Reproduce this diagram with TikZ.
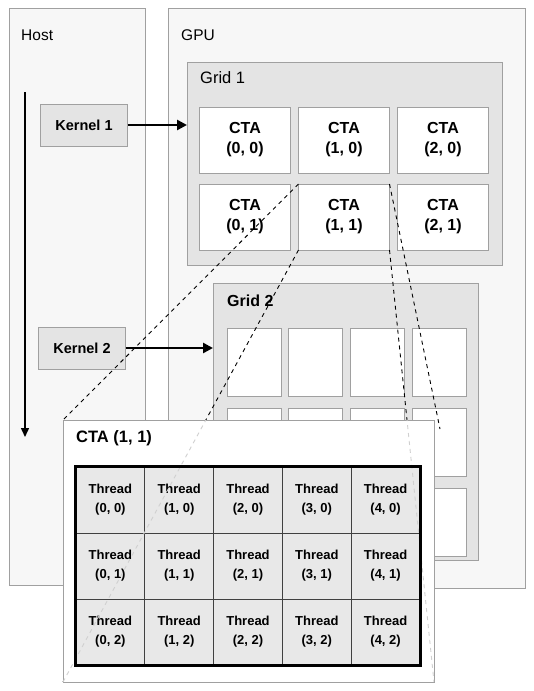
\documentclass[tikz,border=0pt]{standalone}
\usepackage{fontspec}
\setmainfont{Liberation Sans}
\usetikzlibrary{arrows.meta}
\definecolor{pane}{HTML}{F7F7F7}
\definecolor{gridfill}{HTML}{E4E4E4}
\definecolor{edge}{HTML}{A0A0A0}
\definecolor{cellfill}{HTML}{E8E8E8}
\definecolor{faint}{HTML}{D0D0D0}

\begin{document}
\begin{tikzpicture}[x=1pt,y=-1pt,
		box/.style={draw=edge,line width=1pt,inner sep=0pt,outer sep=0pt},
		boxtitle/.style={anchor=west,inner sep=0pt,font=\fontsize{15.5}{18}\selectfont},
		cta/.style={box,fill=white,minimum width=91pt,minimum height=66pt,align=center,font=\fontsize{16}{20}\selectfont\bfseries},
		slot/.style={box,fill=white,minimum width=54pt,minimum height=68pt},
		thread/.style={draw=black!75,line width=1pt,fill=cellfill,inner sep=0pt,minimum width=68.8pt,minimum height=66pt,align=center,font=\fontsize{13}{19}\selectfont\bfseries},
		kernel/.style={box,fill=gridfill,minimum width=87pt,minimum height=42pt,font=\fontsize{14.5}{17}\selectfont\bfseries},
		launch/.style={-{Triangle[length=10pt,width=10pt]},line width=2.5pt},
		zoomline/.style={dash pattern=on 4pt off 4pt,line width=0.9pt}]
	\useasboundingbox (0,0) rectangle (534,691);

	\node[box,fill=pane,minimum width=136pt,minimum height=577pt] (host) at (77,296.5) {};
	\node[box,fill=pane,minimum width=357pt,minimum height=580pt] (gpu) at (346.5,298) {};
	\node[boxtitle] (hosttitle) at (21,35) {Host};
	\node[boxtitle] (gputitle) at (181,35) {GPU};

	\node[box,fill=gridfill,minimum width=315pt,minimum height=203pt] (grid1) at (344.5,163.5) {};
	\node[boxtitle,font=\fontsize{16.5}{18}\selectfont] (grid1title) at (200,78) {Grid 1};
	\foreach \i in {0,1,2}
		\foreach \j in {0,1}
			\node[cta] (cta-\i-\j) at (245+99*\i,140+77*\j) {CTA\\(\i, \j)};

	\node[box,fill=gridfill,minimum width=265pt,minimum height=277pt] (grid2) at (345.5,421.5) {};
	\node[boxtitle,font=\fontsize{16}{18}\selectfont\bfseries] (grid2title) at (227,301) {Grid 2};
	\foreach \i in {0,...,3}
		\foreach \j in {0,1,2}
			\node[slot] (slot-\i-\j) at (254+61.7*\i,362+80*\j) {};

	\node[kernel] (kernel1) at (84,125) {Kernel 1};
	\node[kernel] (kernel2) at (82,348) {Kernel 2};
	\draw[launch] (kernel1.east) -- (kernel1.east -| grid1.west);
	\draw[launch] (kernel2.east) -- (kernel2.east -| grid2.west);
	\coordinate (tstart) at (25,92);
	\coordinate (tend) at (25,437);
	\draw[-{Triangle[length=9pt,width=8pt]},line width=1.5pt] (tstart) -- (tend);

	\node[inner sep=0pt,outer sep=0pt,minimum width=371pt,minimum height=262pt] (panel) at (248.5,551) {};
	\coordinate (tr) at (440,429);
	\draw[zoomline] (cta-1-1.north west) -- (panel.north west);
	\draw[zoomline] (cta-1-1.south west) -- (panel.south west);
	\draw[zoomline] (cta-1-1.north east) -- (tr);
	\draw[zoomline] (cta-1-1.south east) -- (panel.south east);

	\draw[box,fill=white] (panel.north west) rectangle (panel.south east);
	\node[boxtitle,font=\fontsize{16.5}{18}\selectfont\bfseries] (paneltitle) at (76,438) {CTA (1, 1)};
	\foreach \i in {0,...,4}
		\foreach \j in {0,1,2}
			\node[thread] (thr-\i-\j) at (110.4+68.8*\i,500+66*\j) {Thread\\(\i, \j)};
	\begin{scope}
		\clip (panel.north west) rectangle (panel.south east);
		\draw[zoomline,faint] (cta-1-1.south west) -- (panel.south west);
		\draw[zoomline,faint] (cta-1-1.south east) -- (panel.south east);
	\end{scope}
	\draw[line width=2.5pt] (thr-0-0.north west) rectangle (thr-4-2.south east);
\end{tikzpicture}
\end{document}
